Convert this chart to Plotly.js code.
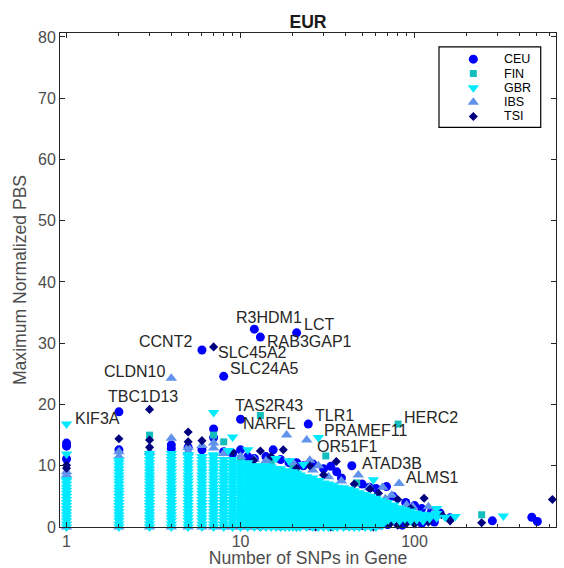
<!DOCTYPE html>
<html><head><meta charset="utf-8">
<script src="https://cdn.plot.ly/plotly-3.0.1.min.js"></script>
<style>html,body{margin:0;padding:0;background:#fff}#chart{width:564px;height:568px}</style>
</head><body><div id="chart"></div>
<script>
// ---------------- DATA ----------------
const seriesNames = ['CEU','FIN','GBR','IBS','TSI'];

const ceuX = [1,1,1,2,2,4,4,5,6,6,7,7,8,8,9,10,10,11,12,12,13,14,15.4,17,19,21,21,23,24.5,26,30,33,35.7,38,43.6,50,55,60,69,75,89,100,110,125,140,160,280,472,508,25,36,45,70,85,110,130,95,120];
const ceuY = [13.7,13.2,11.1,18.8,12.6,13.4,12.8,13.0,28.9,12.6,16.0,14.6,24.6,12.3,12.0,17.6,12.6,11.5,32.3,11.2,31.0,11.5,12.6,11.0,10.5,31.7,10.5,10.0,16.8,10.3,9.5,9.9,9.0,8.0,10.0,7.0,6.5,6.3,6.6,5.0,4.0,3.5,3.0,2.5,2.3,1.5,1.0,1.6,0.9,0.2,0.3,0.2,0.4,0.3,0.6,0.8,1.5,1.8];

const finX = [1,3,7,8,13,15,20,30.9,46.5,60,80.4,243,4,10];
const finY = [8.0,15.0,15.0,13.9,18.2,10.5,9.8,11.6,7.2,4.5,16.8,2.0,11.8,11.2];

const gbrX = [1,1,7,8.5,9,11,16,19,23,28,58,134,171,324];
const gbrY = [11.9,16.8,18.7,12.5,14.7,12.6,11.2,10.8,10.2,14.6,7.7,3.0,1.7,1.8];

// dense GBR cloud: SNP count of each column and the values stacked in it
const gbrColN = [1,2,3,4,5,6,7,8,9,10,11,12,13,14,15,16,17,18,19,20,21,22,24,26,28,30,32,34,36,39,42,45,48,52,56,60,65,70,76,82,88,95,103,112,122,134,150];
const gbrColY = [
 [0,0.5,1,1.5,2,2.5,3,3.5,4,4.5,5,5.5,6,6.5,7,7.5,7.7],
 [0,0.5,1,1.5,2,2.5,3,3.5,4,4.5,5,5.5,6,6.5,7,7.5,8,8.5,9,9.5,10,10.5,10.9],
 [0,0.5,1,1.5,2,2.5,3,3.5,4,4.5,5,5.5,6,6.5,7,7.5,8,8.5,9,9.5,10,10.5,11,11.5,12],
 [0,0.5,1,1.5,2,2.5,3,3.5,4,4.5,5,5.5,6,6.5,7,7.5,8,8.5,9,9.5,10,10.5,11,11.5,12],
 [0,0.5,1,1.5,2,2.5,3,3.5,4,4.5,5,5.5,6,6.5,7,7.5,8,8.5,9,9.5,10,10.5,11,11.5,11.8],
 [0,0.5,1,1.5,2,2.5,3,3.5,4,4.5,5,5.5,6,6.5,7,7.5,8,8.5,9,9.5,10,10.5,11,11.5],
 [0,0.5,1,1.5,2,2.5,3,3.5,4,4.5,5,5.5,6,6.5,7,7.5,8,8.5,9,9.5,10,10.5,11,11.5,11.8],
 [0,0.5,1,1.5,2,2.5,3,3.5,4,4.5,5,5.5,6,6.5,7,7.5,8,8.5,9,9.5,10,10.5,11],
 [0,0.5,1,1.5,2,2.5,3,3.5,4,4.5,5,5.5,6,6.5,7,7.5,8,8.5,9,9.5,10,10.5,11],
 [0,0.5,1,1.5,2,2.5,3,3.5,4,4.5,5,5.5,6,6.5,7,7.5,8,8.5,9,9.5,10,10.5],
 [0,0.5,1,1.5,2,2.5,3,3.5,4,4.5,5,5.5,6,6.5,7,7.5,8,8.5,9,9.5,10,10.5],
 [0,0.5,1,1.5,2,2.5,3,3.5,4,4.5,5,5.5,6,6.5,7,7.5,8,8.5,9,9.5,10],
 [0,0.5,1,1.5,2,2.5,3,3.5,4,4.5,5,5.5,6,6.5,7,7.5,8,8.5,9,9.5,10],
 [0,0.5,1,1.5,2,2.5,3,3.5,4,4.5,5,5.5,6,6.5,7,7.5,8,8.5,9,9.5,10],
 [0,0.5,1,1.5,2,2.5,3,3.5,4,4.5,5,5.5,6,6.5,7,7.5,8,8.5,9,9.5,9.8],
 [0,0.5,1,1.5,2,2.5,3,3.5,4,4.5,5,5.5,6,6.5,7,7.5,8,8.5,9,9.5],
 [0,0.5,1,1.5,2,2.5,3,3.5,4,4.5,5,5.5,6,6.5,7,7.5,8,8.5,9,9.5],
 [0,0.5,1,1.5,2,2.5,3,3.5,4,4.5,5,5.5,6,6.5,7,7.5,8,8.5,9,9.2],
 [0,0.5,1,1.5,2,2.5,3,3.5,4,4.5,5,5.5,6,6.5,7,7.5,8,8.5,9],
 [0,0.5,1,1.5,2,2.5,3,3.5,4,4.5,5,5.5,6,6.5,7,7.5,8,8.5,9],
 [0,0.5,1,1.5,2,2.5,3,3.5,4,4.5,5,5.5,6,6.5,7,7.5,8,8.5,8.8],
 [0,0.5,1,1.5,2,2.5,3,3.5,4,4.5,5,5.5,6,6.5,7,7.5,8,8.5],
 [0,0.5,1,1.5,2,2.5,3,3.5,4,4.5,5,5.5,6,6.5,7,7.5,8,8.2],
 [0,0.5,1,1.5,2,2.5,3,3.5,4,4.5,5,5.5,6,6.5,7,7.5,8],
 [0,0.5,1,1.5,2,2.5,3,3.5,4,4.5,5,5.5,6,6.5,7,7.5,7.6],
 [0,0.5,1,1.5,2,2.5,3,3.5,4,4.5,5,5.5,6,6.5,7,7.2],
 [0,0.5,1,1.5,2,2.5,3,3.5,4,4.5,5,5.5,6,6.5,7],
 [0,0.5,1,1.5,2,2.5,3,3.5,4,4.5,5,5.5,6,6.5,6.8],
 [0,0.5,1,1.5,2,2.5,3,3.5,4,4.5,5,5.5,6,6.5],
 [0,0.5,1,1.5,2,2.5,3,3.5,4,4.5,5,5.5,6,6.4],
 [0,0.5,1,1.5,2,2.5,3,3.5,4,4.5,5,5.5,6,6.2],
 [0,0.5,1,1.5,2,2.5,3,3.5,4,4.5,5,5.5,5.9],
 [0,0.5,1,1.5,2,2.5,3,3.5,4,4.5,5,5.5,5.6],
 [0,0.5,1,1.5,2,2.5,3,3.5,4,4.5,5,5.3],
 [0,0.5,1,1.5,2,2.5,3,3.5,4,4.5,5],
 [0,0.5,1,1.5,2,2.5,3,3.5,4,4.5,4.7],
 [0.3,0.8,1.3,1.8,2.3,2.8,3.3,3.8,4.3],
 [1,1.5,2,2.5,3,3.5,4],
 [1.2,1.7,2.2,2.7,3.2,3.6],
 [1,1.5,2,2.5,3.1],
 [1.3,1.8,2.3,2.8],
 [1,1.5,2,2.6],
 [1.2,1.7,2.3],
 [1,1.5,2.1],
 [1.4,2.0],
 [1.5,2.2],
 [1.6]
];

const ibsX = [1,1,2,2,3,4,4,5,5,6,7,7,8,10,12,14,18.4,20,24,25,26,28,32,38,47.5,55,65.6,74,81.5,97.6,120,130,68,90,
              1,2,3,4,5,6,7,8,9,10,11,12,14,16,18,20,23,26,30,34,38,43,48,54,60];
const ibsY = [8.5,9.0,12.3,11.5,12.3,14.5,24.3,13.0,12.3,13.3,13.7,12.9,12.0,11.5,11.0,10.8,15.0,10.5,14.2,10.9,9.3,10.0,8.2,7.5,8.5,6.5,6.5,5.2,7.1,3.3,3.3,2.5,4.6,3.6,
              0,0,0,0,0,0,0,0,0,0,0,0,0,0,0,0,0,0,0,0,0,0,0,0,0];

const tsiX = [1,1,2,3,3,3,5,5,6,7,9,11.9,13,15,17.6,21,25,30,35.5,45,55.5,62,80,95,113.5,143,243,620,
              13,17,21,27,33,40,50,58,65,72,80,90,100,120,160];
const tsiY = [9.6,10.1,14.4,14.2,13.0,19.2,15.5,13.9,14.1,29.4,12.2,10.9,12.4,11.5,12.6,9.6,10.0,8.5,10.7,7.0,6.2,5.5,4.5,3.0,4.7,2.0,0.7,4.5,
              0,0,0,0,0,0.3,0.2,0,0.3,0.5,0.3,0.6,0.5,0.8,1.0];

// labelled genes: name and the point it marks
const geneNames = ['KIF3A','TBC1D13','CLDN10','CCNT2','SLC45A2','SLC24A5','R3HDM1','RAB3GAP1','LCT','TAS2R43','NARFL','TLR1','PRAMEF11','OR51F1','ATAD3B','HERC2','ALMS1'];
const geneX = [1,2,4,6,7,8,12,13,21,10,18.4,24.5,28,30.9,43.6,80.4,81.5];
const geneY = [16.8,18.8,24.3,28.9,29.4,24.6,32.3,31.0,31.7,17.6,15.0,16.8,14.6,11.6,10.0,16.8,7.1];

// ---------------- STYLE ----------------
const colors = {CEU:'#0000FF', FIN:'#14BEBE', GBR:'#00EAFF', IBS:'#6193EC', TSI:'#00007F'};
const symbols = {CEU:'circle', FIN:'square', GBR:'triangle-down', IBS:'triangle-up', TSI:'diamond'};
const sizes = {CEU:9, FIN:7, GBR:10, IBS:10, TSI:7};
// label placement: [xanchor, xshift px, yshift px]
const labelPlace = [
 ['left',6.5,6],['center',23.6,15],['right',-4.3,7],['right',-8,8],['left',2.5,-6],['left',4.4,8],
 ['center',14.7,12],['left',4.7,-4],['left',5.4,8],['left',-7.5,14],['right',11.4,12],['left',4.8,9],
 ['left',3.7,6.6],['left',-10.8,9],['left',8.2,2.7],['left',3.9,7],['left',4.9,6.5]
];

function mk(name, x, y, extra) {
  return Object.assign({
    type:'scatter', mode:'markers', x:x, y:y, name:name, cliponaxis:false, hoverinfo:'skip',
    marker:{symbol:symbols[name], color:colors[name], size:sizes[name], line:{width:0}}
  }, extra||{});
}

// flatten GBR cloud
const gbrAllX = gbrX.slice(), gbrAllY = gbrY.slice();
gbrColN.forEach((n,i)=>gbrColY[i].forEach(v=>{gbrAllX.push(n); gbrAllY.push(v);}));

const traces = [
  mk('CEU', ceuX, ceuY),
  mk('FIN', finX, finY),
  mk('IBS', ibsX, ibsY),
  mk('TSI', tsiX, tsiY),
  mk('GBR', gbrAllX, gbrAllY)
];

// custom legend (paper-like overlay axes)
const legRowY = [0.9470,0.9180,0.8890,0.8600,0.8310];
seriesNames.forEach((nm,i)=>{
  traces.push(mk(nm,[0.8333],[legRowY[i]],{xaxis:'x2',yaxis:'y2'}));
});

const annotations = geneNames.map((g,i)=>({
  x:Math.log10(geneX[i]), y:geneY[i], xref:'x', yref:'y', text:g, showarrow:false,
  xanchor:labelPlace[i][0], yanchor:'middle', xshift:labelPlace[i][1], yshift:labelPlace[i][2],
  font:{size:16, color:'#262626'}
}));
seriesNames.forEach((nm,i)=>{
  annotations.push({x:0.8938, y:legRowY[i], xref:'paper', yref:'paper', text:nm, showarrow:false,
    xanchor:'left', yanchor:'middle', borderpad:0, font:{size:12.5, color:'#000'}});
});

const minorX = [2,3,4,5,6,7,8,9,20,30,40,50,60,70,80,90,200,300,400,500,600];
const axCommon = {ticks:'inside', ticklen:5, tickwidth:1, tickcolor:'#262626', showline:true, linecolor:'#262626',
  linewidth:1, mirror:'ticks', showgrid:false, zeroline:false, tickfont:{size:16, color:'#4d4d4d'}};

const layout = {
  width:564, height:568, margin:{l:60, r:8, t:33, b:41},
  paper_bgcolor:'#fff', plot_bgcolor:'#fff', showlegend:false,
  font:{family:'"Liberation Sans", Arial, Helvetica, sans-serif'},
  title:{text:'<b>EUR</b>', font:{size:17.6, color:'#1a1a1a'}, x:0.5, xref:'paper', xanchor:'center',
         y:1-22/568, yref:'container', yanchor:'middle'},
  xaxis:Object.assign({}, axCommon, {type:'log', range:[Math.log10(0.917), Math.log10(650)],
    tickmode:'array', tickvals:[1,10,100], ticktext:['1','10','100'],
    minor:{tickmode:'array', tickvals:minorX, ticks:'inside', ticklen:3, tickcolor:'#262626', showgrid:false},
    title:{text:'Number of SNPs in Gene', font:{size:17.6, color:'#4d4d4d'}, standoff:6}}),
  yaxis:Object.assign({}, axCommon, {range:[0,80.65], tickmode:'linear', tick0:0, dtick:10,
    title:{text:'Maximum Normalized PBS', font:{size:17.6, color:'#4d4d4d'}, standoff:6}}),
  xaxis2:{overlaying:'x', range:[0,1], visible:false, fixedrange:true},
  yaxis2:{overlaying:'y', range:[0,1], visible:false, fixedrange:true},
  shapes:[{type:'rect', xref:'paper', yref:'paper', x0:0.7641, x1:0.9692, y0:0.8090, y1:0.9720,
           line:{color:'#000', width:1.2}, fillcolor:'#fff', layer:'below'}],
  annotations:annotations
};

Plotly.newPlot('chart', traces, layout, {displayModeBar:false, staticPlot:true});
</script></body></html>
